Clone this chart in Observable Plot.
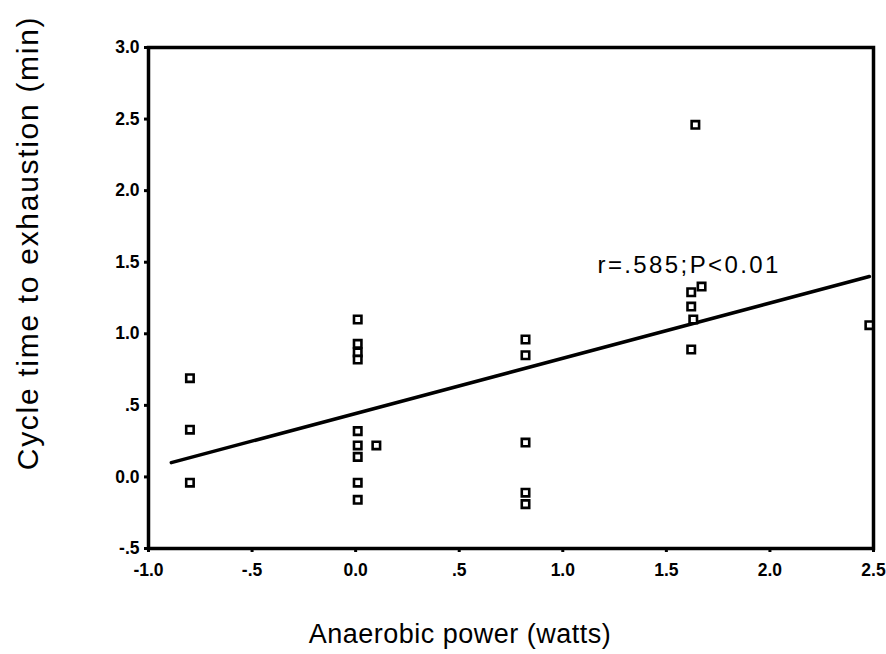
<!DOCTYPE html>
<html>
<head>
<meta charset="utf-8">
<script src="https://cdn.jsdelivr.net/npm/d3@7"></script>
<script src="https://cdn.jsdelivr.net/npm/@observablehq/plot@0.6"></script>
<style>
  body { margin: 0; background: #fff; }
  #chart svg { font-family: "Liberation Sans", Arial, sans-serif; }
</style>
</head>
<body>
<div id="chart"></div>
<script>
// Data
const powerX = [-0.80, -0.80, -0.80,
  0.01, 0.01, 0.01, 0.01, 0.01, 0.01, 0.01, 0.01, 0.01, 0.10,
  0.82, 0.82, 0.82, 0.82, 0.82,
  1.64, 1.62, 1.67, 1.62, 1.63, 1.62,
  2.48];
const timeY = [0.69, 0.33, -0.04,
  1.10, 0.93, 0.87, 0.82, 0.32, 0.22, 0.14, -0.04, -0.16, 0.22,
  0.96, 0.85, 0.24, -0.11, -0.19,
  2.46, 1.29, 1.33, 1.19, 1.10, 0.89,
  1.06];
const fitX = [-0.89, 2.48];
const fitY = [0.10, 1.40];
const xTicks = [-1.0, -0.5, 0.0, 0.5, 1.0, 1.5, 2.0, 2.5];
const yTicks = [-0.5, 0.0, 0.5, 1.0, 1.5, 2.0, 2.5, 3.0];
const annotation = ["r=.585;P<0.01"];
const xTitle = "Anaerobic power (watts)";
const yTitle = "Cycle time to exhaustion (min)";

const points = powerX.map((x, i) => ({x, y: timeY[i]}));
const fit = fitX.map((x, i) => ({x, y: fitY[i]}));
const fmt = d => d === 0 ? "0.0" : d.toFixed(1).replace(/^(-?)0\./, "$1.");

const chart = Plot.plot({
  width: 886,
  height: 654,
  marginLeft: 148,
  marginRight: 13,
  marginTop: 47,
  marginBottom: 106,
  x: {domain: [-1, 2.5]},
  y: {domain: [-0.5, 3.0]},
  marks: [
    Plot.axisX({ticks: xTicks, tickFormat: fmt, tickSize: 4, tickPadding: 11, fontSize: 17.5, fontWeight: "bold", label: null, stroke: "#000", strokeWidth: 3, color: "#000"}),
    Plot.axisY({ticks: yTicks, tickFormat: fmt, tickSize: 4, tickPadding: 5, fontSize: 17.5, fontWeight: "bold", label: null, stroke: "#000", strokeWidth: 3, color: "#000"}),
    Plot.frame({stroke: "#000", strokeWidth: 3.5}),
    Plot.line(fit, {x: "x", y: "y", stroke: "#000", strokeWidth: 3.5}),
    Plot.dot(points, {x: "x", y: "y", symbol: "square", r: 4.2, stroke: "#000", strokeWidth: 2.6, fill: "#fff"}),
    Plot.text(annotation, {x: 1.61, y: 1.48, text: d => d, fontSize: 24, fill: "#000", textAnchor: "middle", lineAnchor: "middle"}),
    Plot.text([yTitle], {frameAnchor: "left", dx: -120, dy: -55, rotate: -90, text: d => d, fontSize: 30, fill: "#000", lineAnchor: "middle", textAnchor: "middle"}),
    Plot.text([xTitle], {frameAnchor: "bottom", dx: -51, dy: 86, text: d => d, fontSize: 27, fill: "#000", lineAnchor: "middle", textAnchor: "middle"})
  ]
});
document.getElementById("chart").appendChild(chart);
chart.querySelectorAll("text").forEach(t => {
  if (t.textContent === yTitle) t.style.letterSpacing = "1.7px";
  if (t.textContent === xTitle) t.style.letterSpacing = "0.5px";
  if (t.textContent === annotation[0]) t.style.letterSpacing = "2.4px";
});
</script>
</body>
</html>
